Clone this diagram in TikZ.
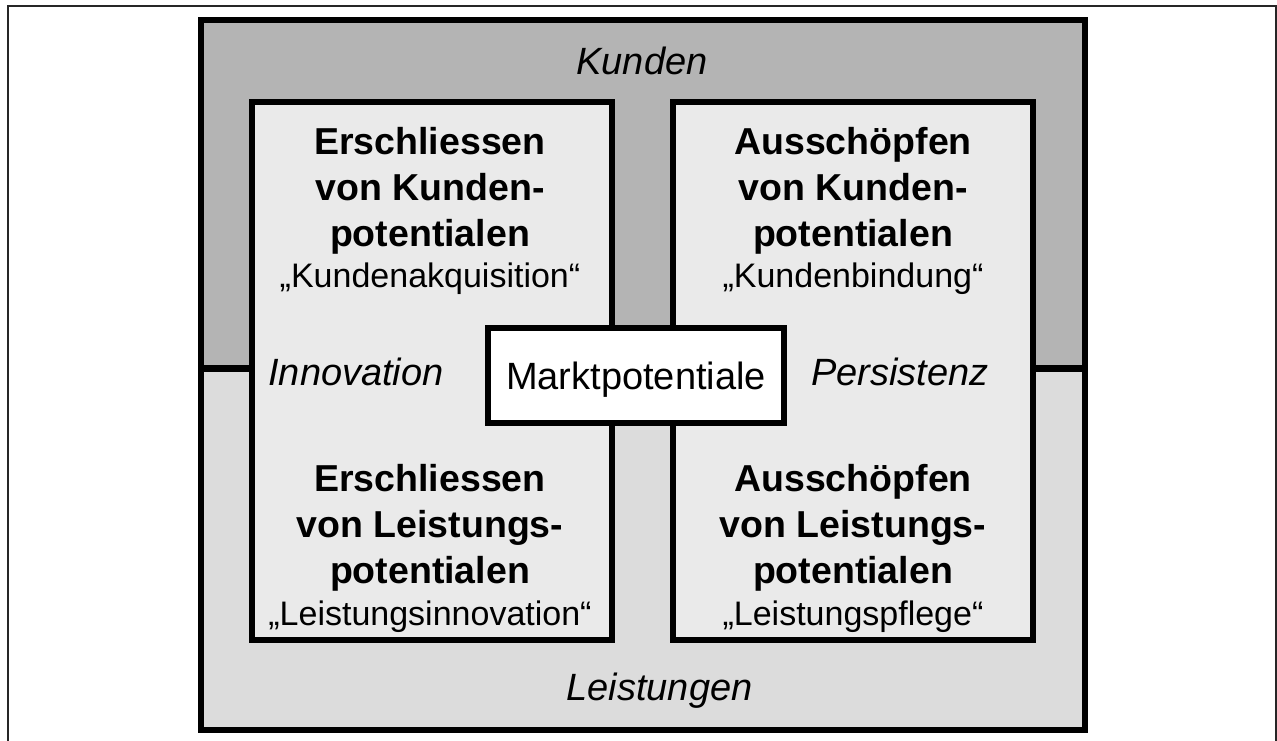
\documentclass[tikz,border=0pt]{standalone}
\usepackage{fontspec}
\setmainfont{Liberation Sans}
\usepackage{xcolor}
\definecolor{kundengrau}{HTML}{B4B4B4}
\definecolor{leistungsgrau}{HTML}{DCDCDC}
\definecolor{feldgrau}{HTML}{EAEAEA}

\begin{document}
\begin{tikzpicture}[x=1pt, y=1pt,
    feld/.style={rectangle, draw=black, line width=6pt, fill=feldgrau,
                 inner sep=0pt},
    markt/.style={rectangle, draw=black, line width=6pt, fill=white,
                  minimum width=296pt, minimum height=95pt, inner sep=0pt,
                  text height=37pt, text depth=8pt,
                  font=\fontsize{38}{44}\selectfont},
    achse/.style={font=\fontsize{38}{44}\selectfont\itshape, inner sep=0pt,
                  anchor=base},
    titel/.style={font=\fontsize{37.5}{46}\selectfont\bfseries, align=center,
                  inner sep=0pt, anchor=base},
    zitat/.style={font=\fontsize{34}{40}\selectfont, inner sep=0pt,
                  anchor=base}
  ]
    \useasboundingbox (0,0) rectangle (1277,740);
    % thin page frame
    \draw[line width=1.5pt, black!85] (8,-10) rectangle (1276,734);

    % outer field: Kunden above, Leistungen below
    \fill[kundengrau] (201,371) rectangle (1084.5,719.5);
    \fill[leistungsgrau] (201,10) rectangle (1084.5,371);
    \draw[line width=6pt] (201,10) rectangle (1084.5,719.5);
    \draw[line width=7pt] (201,371) -- (1084.5,371);

    % the two inner columns
    \node[feld, minimum width=360pt, minimum height=537.5pt] (links) at (432,368.75) {};
    \node[feld, minimum width=360pt, minimum height=537.5pt] (rechts) at (853,368.75) {};

    \node[markt] (mp) at (636,364.5) {Marktpotentiale};

    \node[achse] (kunden) at (642,665) {Kunden};
    \node[achse] (leistungen) at (659.5,39.5) {Leistungen};
    \node[achse] (innovation) at (356,355) {Innovation};
    \node[achse] (persistenz) at (900,354) {Persistenz};

    % quadrants (base = last line of the title)
    \node[titel] (ek) at (430,493.5) {Erschliessen\\von Kunden-\\potentialen};
    \node[zitat] (ekz) at (430,452.5) {„Kundenakquisition“};
    \node[titel] (ak) at (853,493.5) {Ausschöpfen\\von Kunden-\\potentialen};
    \node[zitat] (akz) at (853,452.5) {„Kundenbindung“};
    \node[titel] (el) at (430,156.5) {Erschliessen\\von Leistungs-\\potentialen};
    \node[zitat] (elz) at (430,115) {„Leistungsinnovation“};
    \node[titel] (al) at (853,156.5) {Ausschöpfen\\von Leistungs-\\potentialen};
    \node[zitat] (alz) at (853,115) {„Leistungspflege“};
  \end{tikzpicture}
\end{document}
